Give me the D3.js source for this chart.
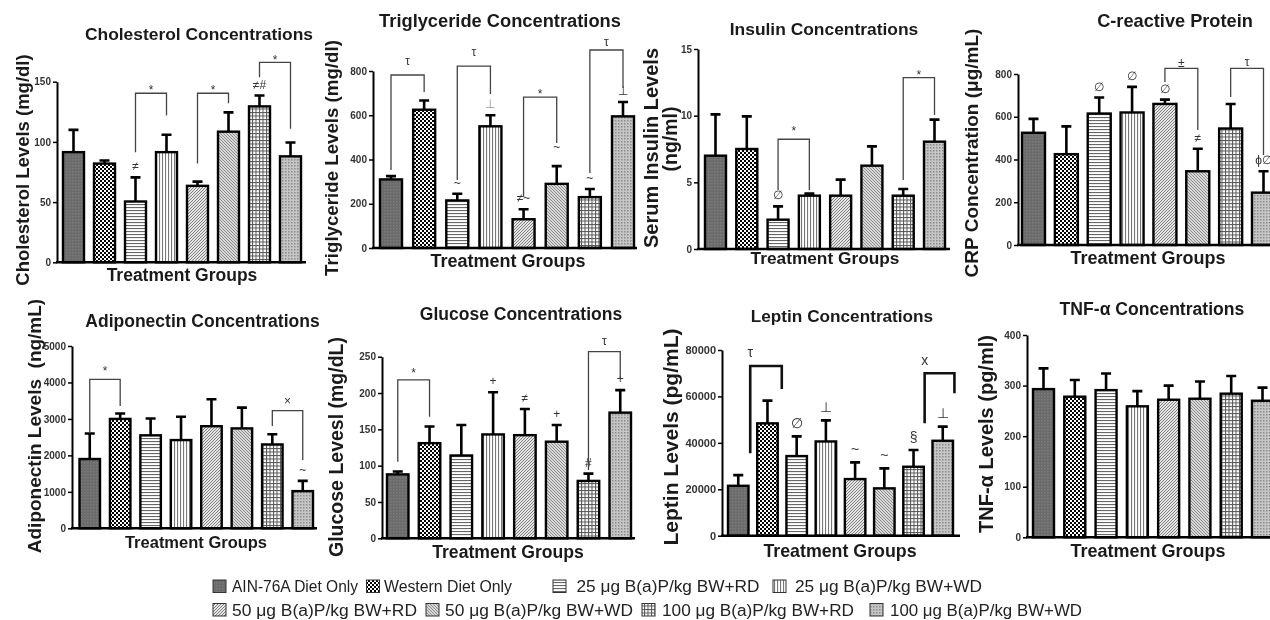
<!DOCTYPE html>
<html><head><meta charset="utf-8">
<script src="https://cdn.jsdelivr.net/npm/d3@7"></script>
<style>
body{margin:0;background:#fff}
svg{display:block;will-change:transform}
text{font-family:"Liberation Sans",Arial,Helvetica,sans-serif}
</style>
</head><body>
<svg id="c" width="1270" height="620"></svg>
<script>
// ---------- DATA ----------
const groups = ["AIN-76A Diet Only","Western Diet Only","25 \u03bcg B(a)P/kg BW+RD","25 \u03bcg B(a)P/kg BW+WD",
  "50 \u03bcg B(a)P/kg BW+RD","50 \u03bcg B(a)P/kg BW+WD","100 \u03bcg B(a)P/kg BW+RD","100 \u03bcg B(a)P/kg BW+WD"];

const cholMean = [91.5,82,50.5,91.5,63.5,108.5,129.5,88];
const cholSem  = [18.5,2.5,20,14.5,3.5,16,9,11.5];
const cholMarks = [[2,"≠"],[6,"≠#"]];
const cholBrackets = [[2,3,140.4,91.4,122,"*",145.4],[4,5,140.4,82,132,"*",145.4],[6,7,166,153.6,111,"*",170.3]];
const cholTicks = [0,50,100,150];

const trigMean = [310,625,215,550,130,290,230,595];
const trigSem  = [15,42,30,50,45,80,37,65];
const trigMarks = [[2,"~"],[3,"⊥",null,"#999"],[4,"≠~"],[5,"~",456],[6,"~"],[7,"⊥"]];
const trigBrackets = [[0,1,782,352,705,"τ",840],[2,3,822,307,696,"τ",881],[4,5,682,230,475,"*",710],[6,7,895,339,723,"τ",926]];
const trigTicks = [0,200,400,600,800];

const insMean = [7.0,7.5,2.2,4.0,4.0,6.25,4.0,8.05];
const insSem  = [3.1,2.45,1.0,0.15,1.2,1.45,0.5,1.65];
const insMarks = [[2,"∅"]];
const insBrackets = [[2,3,8.23,4.43,4.43,"*",9.08],[6,7,12.85,5.18,10.05,"*",13.3]];
const insTicks = [0,5,10,15];

const crpMean = [525,425,615,620,660,345,545,245];
const crpSem  = [65,130,75,120,20,105,115,100];
const crpMarks = [[2,"∅"],[3,"∅"],[4,"∅"],[5,"≠"],[7,"ϕ∅"]];
const crpBrackets = [[4,5,826,762,538,"±",851],[6,7,826,692,421,"τ",851]];
const crpTicks = [0,200,400,600,800];

const adipoMean = [1900,3000,2550,2420,2800,2740,2300,1020];
const adipoSem  = [700,150,460,640,740,570,280,280];
const adipoMarks = [[7,"~"]];
const adipoBrackets = [[0,1,4087,2605,3354,"*",4405],[6,7,3225,2806,1873,"×",3500]];
const adipoTicks = [0,1000,2000,3000,4000,5000];

const glucMean = [88,131,114,143,142,133,79,173];
const glucSem  = [4,23,42,58,36,23,10,31];
const glucMarks = [[3,"+"],[4,"≠"],[5,"+"],[6,"#"],[7,"+"]];
const glucBrackets = [[0,1,218,105.5,167.4,"*",231.7],[6,7,257,94,220,"τ",270.7]];
const glucTicks = [0,50,100,150,200,250];

const leptMean = [21500,48400,34300,40600,24400,20400,29700,40900];
const leptSem  = [4600,9800,8500,9100,7200,8600,7200,6100];
const leptMarks = [[2,"∅"],[3,"⊥"],[4,"~"],[5,"~"],[6,"§"],[7,"⊥"]];
const leptBrackets = [[0.41,1.49,73100,35500,63200,"τ",78600,0],[6.38,7.4,70000,48400,61400,"x",75000,0]];
const leptTicks = [0,20000,40000,60000,80000];

const tnfMean = [293,278,291,259,272,274,284,270];
const tnfSem  = [41,33,33,30,28,34,35,26];
const tnfTicks = [0,100,200,300,400];

const titles = ["Cholesterol Concentrations","Triglyceride Concentrations","Insulin Concentrations","C-reactive Protein",
  "Adiponectin Concentrations","Glucose Concentrations","Leptin Concentrations","TNF-\u03b1 Concentrations"];
const yLabels = [["Cholesterol Levels (mg/dl)"],["Triglyceride Levels (mg/dl)"],["Serum Insulin Levels","(ng/ml)"],
  ["CRP Concentration (\u03bcg/mL)"],["Adiponectin Levels  (ng/mL)"],["Glucose Levesl (mg/dL)"],
  ["Leptin Levels (pg/mL)"],["TNF-\u03b1 Levels (pg/ml)"]];
const xLabel = "Treatment Groups";

// ---------- LAYOUT ----------
const layout = [
 {mean:cholMean,sem:cholSem,marks:cholMarks,br:cholBrackets,ticks:cholTicks,
  ax:57,axEnd:306,L:63,R:301,bw:21,y0:262.3,yT:81.7,
  t:[199,39.5,17.4],yl:[[29,170,18.5]],tg:[182,281,17.5],tf:10},
 {mean:trigMean,sem:trigSem,marks:trigMarks,br:trigBrackets,ticks:trigTicks,
  ax:373,axEnd:637,L:380,R:634,bw:22,y0:248,yT:71,
  t:[500,26.5,18.3],yl:[[338,158,18.7]],tg:[508,267,18]},
 {mean:insMean,sem:insSem,marks:insMarks,br:insBrackets,ticks:insTicks,
  ax:698,axEnd:950,L:705,R:945,bw:21,y0:249,yT:49,
  t:[824,35,17.4],yl:[[658,148,20],[677,139,19.5]],tg:[825,264,17.3]},
 {mean:crpMean,sem:crpSem,marks:crpMarks,br:crpBrackets,ticks:crpTicks,
  ax:1018,axEnd:1290,L:1022,R:1275,bw:23,y0:245,yT:74,
  t:[1175,27,18.2],yl:[[978,153,19]],tg:[1148,264,18]},
 {mean:adipoMean,sem:adipoSem,marks:adipoMarks,br:adipoBrackets,ticks:adipoTicks,
  ax:72,axEnd:317,L:79.5,R:313,bw:20.5,y0:528.3,yT:346,
  t:[202.5,326.7,17.5],yl:[[41,426,19]],tg:[196,548,16.5]},
 {mean:glucMean,sem:glucSem,marks:glucMarks,br:glucBrackets,ticks:glucTicks,
  ax:382,axEnd:635,L:387,R:631,bw:21.5,y0:538.3,yT:356.7,
  t:[521,320,17.5],yl:[[343,447,19.5]],tg:[508,558,17.6]},
 {mean:leptMean,sem:leptSem,marks:leptMarks,br:leptBrackets,ticks:leptTicks,
  ax:722,axEnd:960,L:728,R:953,bw:20.5,y0:535.7,yT:350,heavy:true,
  t:[842,322,17.2],yl:[[678,437,21]],tg:[840,557,17.8],tf:11,mf:14},
 {mean:tnfMean,sem:tnfSem,marks:[],br:[],ticks:tnfTicks,
  ax:1027,axEnd:1290,L:1033,R:1273,bw:21,y0:537.3,yT:335,
  t:[1152,315,17.6],yl:[[993,434,20]],tg:[1148,557,18]}
];

const svg = d3.select("#c");
svg.append("rect").attr("width",1270).attr("height",620).attr("fill","#fff");
const defs = svg.append("defs");
function pat(id,w,h,bg,draw){
  const p = defs.append("pattern").attr("id",id).attr("patternUnits","userSpaceOnUse").attr("width",w).attr("height",h);
  p.append("rect").attr("width",w).attr("height",h).attr("fill",bg);
  draw(p);
}
pat("p0",3,3,"#6b6b6b",p=>p.append("rect").attr("width",1.5).attr("height",1.5).attr("fill","#7b7b7b"));
pat("p1",4,4,"#fff",p=>{p.append("rect").attr("width",2).attr("height",2).attr("fill","#000");
  p.append("rect").attr("x",2).attr("y",2).attr("width",2).attr("height",2).attr("fill","#000");});
pat("p2",4,3,"#fff",p=>p.append("rect").attr("width",4).attr("height",1.1).attr("fill","#666"));
pat("p3",3,4,"#fff",p=>p.append("rect").attr("width",1.1).attr("height",4).attr("fill","#777"));
pat("p4",3,3,"#e4e4e4",p=>p.append("path").attr("d","M0,3L3,0M-1,1L1,-1M2,4L4,2").attr("stroke","#777").attr("stroke-width",0.9));
pat("p5",3,3,"#d6d6d6",p=>p.append("path").attr("d","M0,0L3,3M-1,2L1,4M2,-1L4,1").attr("stroke","#888").attr("stroke-width",0.9));
pat("p6",3.5,3.5,"#fff",p=>{p.append("rect").attr("width",3.5).attr("height",1).attr("fill","#555");
  p.append("rect").attr("width",1).attr("height",3.5).attr("fill","#555");});
pat("p7",3,3,"#c6c6c6",p=>p.append("rect").attr("width",1.5).attr("height",1.5).attr("fill","#8c8c8c"));
const fills = groups.map((g,i)=>`url(#p${i})`);

function glyphDy(s){ if(s==="*") return "0.58em"; if(s==="τ"||s==="x") return "0.27em"; return "0.34em"; }

layout.forEach((P,pi)=>{
  const g = svg.append("g");
  const max = P.ticks[P.ticks.length-1];
  const y = d3.scaleLinear().domain([0,max]).range([P.y0,P.yT]);
  const step = (P.R-P.L-P.bw)/7, gap = step-P.bw;
  const x = d3.scaleBand().domain(groups).range([P.L-gap/2,P.R+gap/2])
     .paddingInner(gap/step).paddingOuter(gap/step/2);
  const cx = i => x(groups[0]) + x.bandwidth()/2 + i*x.step();

  const data = groups.map((k,i)=>({k,i,m:P.mean[i],s:P.sem[i]}));
  g.selectAll(".eb").data(data).enter().append("path")
    .attr("d",d=>`M${cx(d.i)},${y(d.m)}V${y(d.m+d.s)}M${cx(d.i)-5},${y(d.m+d.s)}H${cx(d.i)+5}`)
    .attr("stroke","#000").attr("stroke-width",2.6).attr("fill","none");
  g.selectAll(".bar").data(data).enter().append("rect")
    .attr("x",d=>x(d.k)).attr("width",x.bandwidth())
    .attr("y",d=>y(d.m)).attr("height",d=>y(0)-y(d.m))
    .attr("fill",d=>fills[d.i]).attr("stroke","#000").attr("stroke-width",2.4);

  const ya = d3.axisLeft(y).tickValues(P.ticks).tickFormat(d3.format("d"))
    .tickSize(4).tickSizeOuter(0).tickPadding(2);
  const ag = g.append("g").attr("transform",`translate(${P.ax},0)`).call(ya);
  ag.select(".domain").attr("stroke","#000").attr("stroke-width",2);
  ag.selectAll(".tick line").attr("stroke","#000").attr("stroke-width",1.5);
  ag.selectAll(".tick text").attr("font-size",P.tf||10).attr("font-weight","bold").attr("fill","#333")
    .attr("font-family","Liberation Sans, Arial, sans-serif");
  g.append("line").attr("x1",P.ax-1).attr("x2",P.axEnd).attr("y1",y(0)).attr("y2",y(0))
    .attr("stroke","#000").attr("stroke-width",2.6);

  g.selectAll(".mk").data(P.marks).enter().append("text")
    .attr("x",d=>cx(d[0]))
    .attr("y",d=> d[2]!=null ? y(d[2]) : y(P.mean[d[0]]+P.sem[d[0]]) - (P.heavy?13:11))
    .attr("dy",d=>glyphDy(d[1])).attr("text-anchor","middle")
    .attr("font-size",P.mf||12).attr("fill",d=>d[3]||"#333").text(d=>d[1]);

  g.selectAll(".br").data(P.br).enter().append("path")
    .attr("d",d=>`M${cx(d[0])},${y(d[3])}V${y(d[2])}H${cx(d[1])}V${y(d[4])}`)
    .attr("fill","none").attr("stroke",P.heavy?"#111":"#444").attr("stroke-width",P.heavy?2.6:1.3);
  g.selectAll(".bl").data(P.br).enter().append("text")
    .attr("x",d=> d.length>7 ? cx(d[0]) : (cx(d[0])+cx(d[1]))/2)
    .attr("y",d=>y(d[6])).attr("dy",d=>glyphDy(d[5])).attr("text-anchor","middle")
    .attr("font-size",P.heavy?14:12).attr("fill","#333").text(d=>d[5]);

  g.append("text").attr("x",P.t[0]).attr("y",P.t[1]).attr("text-anchor","middle")
    .attr("font-size",P.t[2]).attr("font-weight","bold").attr("fill","#1a1a1a").text(titles[pi]);
  yLabels[pi].forEach((lab,li)=>{
    const q = P.yl[li];
    g.append("text").attr("transform",`translate(${q[0]},${q[1]}) rotate(-90)`).attr("text-anchor","middle")
      .attr("font-size",q[2]).attr("font-weight","bold").attr("fill","#1a1a1a")
      .style("white-space","pre").text(lab);
  });
  g.append("text").attr("x",P.tg[0]).attr("y",P.tg[1]).attr("text-anchor","middle")
    .attr("font-size",P.tg[2]).attr("font-weight","bold").attr("fill","#1a1a1a").text(xLabel);
});

// legend
const swatchXY = [[213,580],[366.5,580],[553,580],[773,580],[213,603.5],[426,603.5],[642,603.5],[870,603.5]];
const textX = [232,384,576.5,795,232,445,662,890];
const textW = [126,128,183,187,185,188,192,192];
const lg = svg.append("g");
groups.forEach((name,i)=>{
  lg.append("rect").attr("x",swatchXY[i][0]).attr("y",swatchXY[i][1]).attr("width",13).attr("height",12.5)
    .attr("fill",fills[i]).attr("stroke","#333").attr("stroke-width",1);
  lg.append("text").attr("x",textX[i]).attr("y",swatchXY[i][1]+12).attr("font-size",16).attr("fill","#222")
    .attr("textLength",textW[i]).attr("lengthAdjust","spacingAndGlyphs").text(name);
});
</script>
</body></html>
